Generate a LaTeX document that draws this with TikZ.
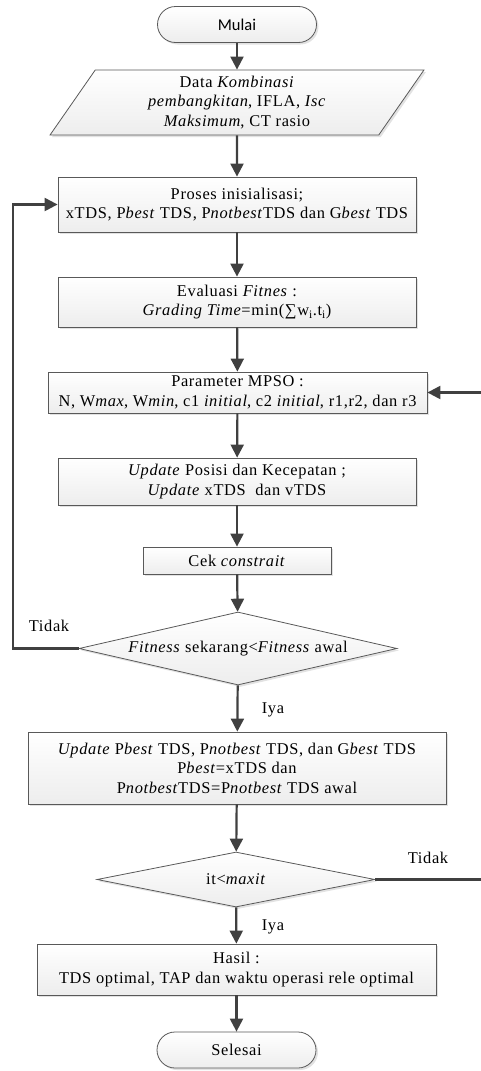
\documentclass[tikz,border=0pt]{standalone}
\usepackage{fontspec}
\setmainfont{Liberation Serif}[LetterSpace=4]
\newfontfamily\calibri{Carlito}
\usepackage{xcolor}
\usetikzlibrary{arrows.meta,shapes.geometric,shadows}
\definecolor{linegray}{HTML}{404040}
\definecolor{edgegray}{HTML}{595959}

\begin{document}
\begin{tikzpicture}[x=1pt,y=-1pt,font=\fontsize{16.4}{19.5}\selectfont,
  flow/.style={draw=linegray,line width=2.2pt,-{Triangle[length=13pt,width=13pt]}},
  base/.style={draw=edgegray,line width=0.8pt,top color=white,bottom color=gray!14,
    drop shadow={shadow xshift=2pt,shadow yshift=-2pt,fill=gray!50,opacity=.45},
    align=center,inner sep=1pt},
  procbox/.style={base,rectangle},
  termbox/.style={base,rectangle,rounded corners=18pt,minimum width=159,minimum height=36},
  iobox/.style={base,trapezium,trapezium left angle=62.4,trapezium right angle=117.6,
    trapezium stretches=true},
  decbox/.style={base,diamond,inner sep=0pt},
  lbl/.style={inner sep=0pt}]
\useasboundingbox (0,0) rectangle (481,1071);
\clip (0,0) rectangle (481,1071);

\node[termbox] (start) at (237,24.5) {\calibri\fontsize{16.5}{19}\selectfont Mulai};
\node[iobox,minimum width=374,minimum height=65] (data) at (237,102.5)
  {Data \textit{Kombinasi}\\ \textit{pembangkitan}, IFLA, \textit{Isc}\\ \textit{Maksimum}, CT rasio};
\node[procbox,minimum width=358,minimum height=55] (init) at (237,204.5)
  {Proses inisialisasi;\\ xTDS, P\textit{best} TDS, P\textit{notbest}TDS dan G\textit{best} TDS};
\node[procbox,minimum width=358,minimum height=50] (eval) at (237,302)
  {Evaluasi \textit{Fitnes} :\\ \textit{Grading Time}=min(∑w\textsubscript{i}.t\textsubscript{i})};
\node[procbox,minimum width=379,minimum height=41] (param) at (237.5,392.5)
  {Parameter MPSO :\\ N, W\textit{max}, W\textit{min}, c1 \textit{initial}, c2 \textit{initial}, r1,r2, dan r3};
\node[procbox,minimum width=358,minimum height=47] (move) at (237,481.5)
  {\textit{Update} Posisi dan Kecepatan ;\\ \textit{Update} xTDS\ \ dan vTDS};
\node[procbox,minimum width=188,minimum height=27] (cek) at (237,560.5)
  {Cek \textit{constrait}};
\node[decbox,aspect=4.36,minimum width=318,minimum height=73] (cond1) at (238,648.5)
  {\textit{Fitness} sekarang<\textit{Fitness} awal};
\node[procbox,minimum width=418,minimum height=72] (best) at (237,768)
  {\textit{Update} P\textit{best} TDS, P\textit{notbest} TDS, dan G\textit{best} TDS\\
   P\textit{best}=xTDS dan\\ P\textit{notbest}TDS=P\textit{notbest} TDS awal};
\node[decbox,aspect=5.05,minimum width=278,minimum height=55] (cond2) at (236,879.5)
  {it<\textit{maxit}};
\node[procbox,minimum width=399,minimum height=51] (hasil) at (236.5,969.5)
  {Hasil :\\ TDS optimal, TAP dan waktu operasi rele optimal};
\node[termbox] (stop) at (236.5,1050) {Selesai};

\node[lbl] (no1) at (49,626) {Tidak};
\node[lbl] (yes1) at (273,710) {Iya};
\node[lbl] (no2) at (428,858) {Tidak};
\node[lbl] (yes2) at (273,927) {Iya};

\coordinate (loopL) at (13,648.5);
\coordinate (loopR) at (486,879.5);

\draw[flow] (start) -- (data);
\draw[flow] (data) -- (init);
\draw[flow] (init) -- (eval);
\draw[flow] (eval) -- (param);
\draw[flow] (param) -- (move);
\draw[flow] (move) -- (cek);
\draw[flow] (cek) -- (cond1);
\draw[flow] (cond1) -- (best);
\draw[flow] (best) -- (cond2);
\draw[flow] (cond2) -- (hasil);
\draw[flow] (hasil) -- (stop);
\draw[flow] (cond1.west) -- (loopL) |- (init.west);
\draw[flow] (cond2.east) -- (loopR) |- (param.east);
\end{tikzpicture}
\end{document}
